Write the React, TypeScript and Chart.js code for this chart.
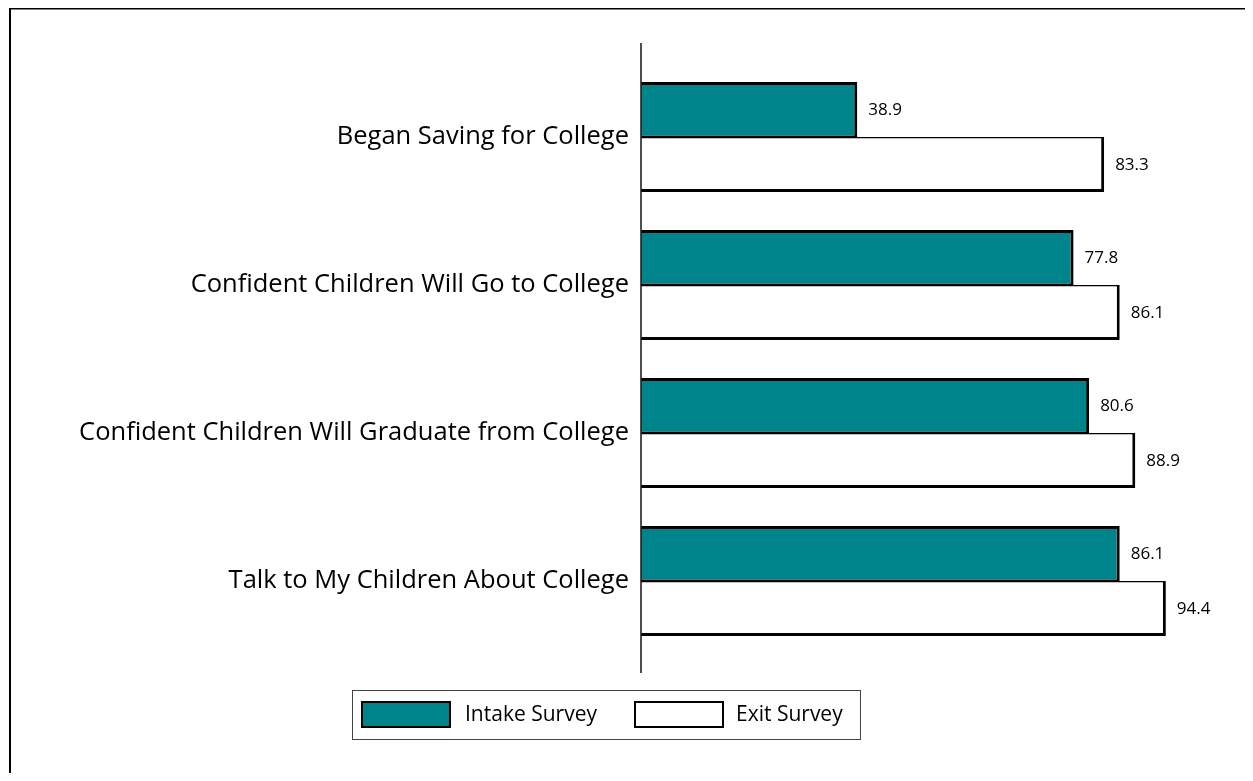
import React, { useEffect, useRef } from "react";
import { Chart, registerables } from "chart.js";

Chart.register(...registerables);

const categories = [
  "Began Saving for College",
  "Confident Children Will Go to College",
  "Confident Children Will Graduate from College",
  "Talk to My Children About College",
];
const intakeSurvey = [38.9, 77.8, 80.6, 86.1];
const exitSurvey = [83.3, 86.1, 88.9, 94.4];
const seriesNames = ["Intake Survey", "Exit Survey"];

const TEAL = "#00848B";
const FONT = "'Open Sans', 'DejaVu Sans', sans-serif";
const W = 1237;
const H = 765;

const framePlugin = {
  id: "frame",
  afterDraw(chart: any) {
    const ctx = chart.ctx;
    ctx.save();
    ctx.strokeStyle = "#000";
    ctx.lineWidth = 2;
    ctx.beginPath();
    ctx.moveTo(2, H);
    ctx.lineTo(2, 0.5);
    ctx.lineTo(W, 0.5);
    ctx.stroke();
    ctx.restore();
  },
};

const axisLinePlugin = {
  id: "axisLine",
  afterDatasetsDraw(chart: any) {
    const { ctx, chartArea } = chart;
    ctx.save();
    ctx.strokeStyle = "#222";
    ctx.lineWidth = 1.6;
    ctx.beginPath();
    ctx.moveTo(chartArea.left, chartArea.top - 20);
    ctx.lineTo(chartArea.left, chartArea.bottom + 18);
    ctx.stroke();
    ctx.restore();
  },
};

const dataLabelPlugin = {
  id: "dataLabels",
  afterDatasetsDraw(chart: any) {
    const ctx = chart.ctx;
    ctx.save();
    ctx.fillStyle = "#000";
    ctx.font = `17px ${FONT}`;
    ctx.textAlign = "left";
    ctx.textBaseline = "middle";
    chart.data.datasets.forEach((ds: any, di: number) => {
      const meta = chart.getDatasetMeta(di);
      meta.data.forEach((el: any, i: number) => {
        ctx.fillText(ds.data[i].toFixed(1), el.x + 11, el.y + 1);
      });
    });
    ctx.restore();
  },
};

const legendPlugin = {
  id: "boxLegend",
  afterDraw(chart: any) {
    const ctx = chart.ctx;
    ctx.save();
    ctx.strokeStyle = "#444";
    ctx.lineWidth = 1;
    ctx.strokeRect(344.5, 682.5, 508, 49);
    const items = [
      { sx: 353, tx: 457 },
      { sx: 626, tx: 728 },
    ];
    chart.data.datasets.forEach((ds: any, i: number) => {
      const it = items[i];
      ctx.fillStyle = ds.backgroundColor;
      ctx.fillRect(it.sx, 693, 90, 27);
      ctx.strokeStyle = "#000";
      ctx.lineWidth = 2;
      ctx.strokeRect(it.sx + 1, 694, 88, 25);
      ctx.fillStyle = "#000";
      ctx.font = `21px ${FONT}`;
      ctx.textBaseline = "middle";
      ctx.textAlign = "left";
      ctx.fillText(ds.label, it.tx, 707);
    });
    ctx.restore();
  },
};

export default function App() {
  const ref = useRef<HTMLCanvasElement>(null);
  useEffect(() => {
    if (!ref.current) return;
    const chart = new Chart(ref.current, {
      type: "bar",
      data: {
        labels: categories,
        datasets: [
          {
            label: seriesNames[0],
            data: intakeSurvey,
            backgroundColor: TEAL,
            borderColor: "#000",
            borderWidth: { top: 3, right: 3, bottom: 1.5, left: 0 },
            borderSkipped: false,
            categoryPercentage: 0.743,
            barPercentage: 1,
          },
          {
            label: seriesNames[1],
            data: exitSurvey,
            backgroundColor: "#FFFFFF",
            borderColor: "#000",
            borderWidth: { top: 1.5, right: 3, bottom: 3, left: 0 },
            borderSkipped: false,
            categoryPercentage: 0.743,
            barPercentage: 1,
          },
        ],
      },
      options: {
        indexAxis: "y",
        responsive: false,
        animation: false,
        layout: { padding: { top: 55, right: 48, bottom: 118, left: 0 } },
        plugins: {
          legend: { display: false },
          tooltip: { enabled: false },
        },
        scales: {
          x: { display: false, min: 0, max: 100 },
          y: {
            grid: { display: false, drawTicks: false },
            border: { display: false },
            ticks: {
              color: "#000",
              padding: 12,
              font: { family: FONT, size: 25.5 },
            },
            afterFit: (s: any) => {
              s.width = 633;
            },
          },
        },
      },
      plugins: [axisLinePlugin, dataLabelPlugin, legendPlugin, framePlugin],
    } as any);
    return () => chart.destroy();
  }, []);
  return (
    <div style={{ width: W, height: H }}>
      <canvas ref={ref} width={W} height={H} style={{ display: "block" }} />
    </div>
  );
}
